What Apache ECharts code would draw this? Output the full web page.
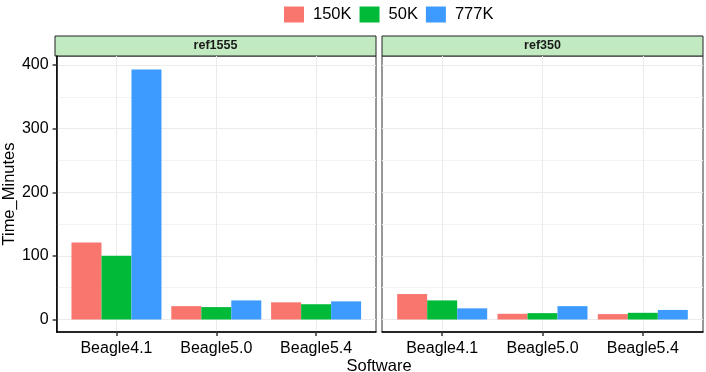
<!DOCTYPE html>
<html><head><meta charset="utf-8">
<script src="https://cdn.jsdelivr.net/npm/echarts@6/dist/echarts.min.js"></script>
<style>html,body{margin:0;padding:0;background:#fff}#c{width:706px;height:372px}</style>
</head><body><div id="c"></div>
<script>
const categories = ['Beagle4.1', 'Beagle5.0', 'Beagle5.4'];
const panels = ['ref1555', 'ref350'];
const seriesNames = ['150K', '50K', '777K'];
const ref1555_150K = [121, 21, 27];
const ref1555_50K = [100, 19.5, 24];
const ref1555_777K = [393, 30, 28.5];
const ref350_150K = [40, 9, 8.5];
const ref350_50K = [30, 10, 10.5];
const ref350_777K = [17.5, 21, 15];
const yTicks = [0, 100, 200, 300, 400];
const yMinor = [50, 150, 250, 350];

const colors = ['#F8766D', '#00BA38', '#3D9BFF'];
const panelData = [
  [ref1555_150K, ref1555_50K, ref1555_777K],
  [ref350_150K, ref350_50K, ref350_777K]
];
const allVals = panelData.flat(2);
const dMax = Math.max(...allVals);
const expand = dMax * 0.05;
const yMin = -expand, yMax = dMax + expand + 1.5;

const FONT = 'Liberation Sans, Arial, sans-serif';
const gridLefts = [55, 382];
const gridW = 321, gridTop = 56, gridH = 276;

const grids = [], xAxes = [], yAxes = [], series = [], graphics = [];
panels.forEach((p, pi) => {
  grids.push({left: gridLefts[pi], top: gridTop, width: gridW, height: gridH,
    show: true, borderColor: '#333', borderWidth: 1, backgroundColor: '#fff'});
  xAxes.push({
    type: 'value', gridIndex: pi, min: 0.4, max: 3.6,
    axisLine: {show: true, onZero: false, lineStyle: {color: '#000', width: 1.5}},
    axisTick: {show: true, length: 4, customValues: [1, 2, 3], lineStyle: {color: '#333', width: 1.5}},
    axisLabel: {show: true, customValues: [1, 2, 3], margin: 9,
      formatter: v => categories[Math.round(v) - 1] || '',
      fontFamily: FONT, fontSize: 16, color: '#000'},
    splitLine: {show: true, lineStyle: {color: '#EBEBEB', width: 1}}
  });
  yAxes.push({
    type: 'value', gridIndex: pi, min: yMin, max: yMax,
    name: pi === 0 ? 'Time_Minutes' : '', nameLocation: 'middle', nameGap: 36,
    nameTextStyle: {fontFamily: FONT, fontSize: 16.5, color: '#000'},
    axisLine: {show: pi === 0, onZero: false, lineStyle: {color: '#000', width: 1.5}},
    axisTick: {show: pi === 0, length: 4, customValues: yTicks, lineStyle: {color: '#333', width: 1.5}},
    axisLabel: {show: pi === 0, customValues: yTicks, margin: 8,
      fontFamily: FONT, fontSize: 16, color: '#000'},
    splitLine: {show: true, lineStyle: {color: '#EBEBEB', width: 1}},
    z: 1
  });
  yAxes.push({
    type: 'value', gridIndex: pi, min: yMin, max: yMax, position: 'left',
    axisLine: {show: false}, axisLabel: {show: false},
    axisTick: {show: false, customValues: yMinor},
    splitLine: {show: true, lineStyle: {color: '#F3F3F3', width: 1}}
  });
  seriesNames.forEach((sn, si) => {
    series.push({
      type: 'bar', name: sn, xAxisIndex: pi, yAxisIndex: pi * 2,
      barWidth: 30, barGap: '0%',
      itemStyle: {color: colors[si]},
      data: panelData[pi][si].map((v, ci) => [ci + 1, v])
    });
  });
  graphics.push({
    type: 'rect', shape: {x: gridLefts[pi], y: 36, width: gridW, height: 20},
    style: {fill: '#C1EAC1', stroke: '#222', lineWidth: 1}
  });
  graphics.push({
    type: 'text', x: gridLefts[pi] + gridW / 2, y: 46,
    style: {text: p, fontFamily: FONT, fontSize: 12.5, fontWeight: 'bold', fill: '#1a1a1a',
      align: 'center', verticalAlign: 'middle'}
  });
});
graphics.push({
  type: 'text', x: 379, y: 366,
  style: {text: 'Software', fontFamily: FONT, fontSize: 16.5, fill: '#000',
    align: 'center', verticalAlign: 'middle'}
});

const chart = echarts.init(document.getElementById('c'), null, {renderer: 'canvas'});
chart.setOption({
  animation: false,
  color: colors,
  legend: {
    data: seriesNames, left: 279, top: 1, icon: 'rect',
    itemWidth: 20, itemHeight: 16, itemGap: 8,
    textStyle: {fontFamily: FONT, fontSize: 16.5, color: '#000', padding: [0, 0, 0, 4]}
  },
  grid: grids, xAxis: xAxes, yAxis: yAxes, series: series, graphic: graphics
});
</script></body></html>
